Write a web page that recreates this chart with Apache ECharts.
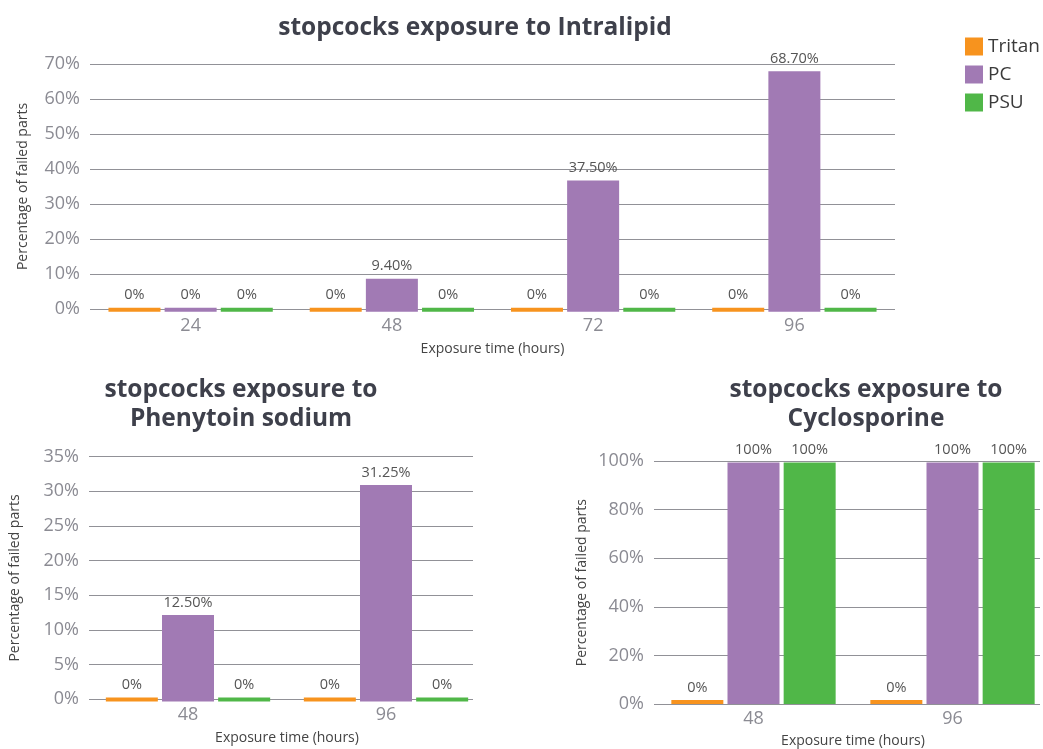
<!DOCTYPE html>
<html>
<head>
<meta charset="utf-8">
<script src="https://cdn.jsdelivr.net/npm/echarts@6/dist/echarts.min.js"></script>
<style>
html,body{margin:0;padding:0;background:#fff;overflow:hidden;width:1043px;height:749px;}
#c{width:1080px;height:749px;}
</style>
</head>
<body>
<div id="c"></div>
<script>
// ---- data ----
const seriesNames = ['Tritan', 'PC', 'PSU'];
const colors = ['#f7931e', '#a17ab4', '#50b748'];

const intraCats = ['24', '48', '72', '96'];
const intraTritan = [0, 0, 0, 0];
const intraPC = [0, 9.4, 37.5, 68.7];
const intraPSU = [0, 0, 0, 0];

const phenCats = ['48', '96'];
const phenTritan = [0, 0];
const phenPC = [12.5, 31.25];
const phenPSU = [0, 0];

const cycloCats = ['48', '96'];
const cycloTritan = [0, 0];
const cycloPC = [100, 100];
const cycloPSU = [100, 100];

const titleIntra = 'stopcocks exposure to Intralipid';
const titlePhen = 'stopcocks exposure to\nPhenytoin sodium';
const titleCyclo = 'stopcocks exposure to\nCyclosporine';
const xName = 'Exposure time (hours)';
const yName = 'Percentage of failed parts';

// ---- chart ----
const FONT = '"Open Sans", "DejaVu Sans", sans-serif';
const tickColor = '#8b8b93';
const fmt = p => {
  const v = p.value;
  return Number.isInteger(v) ? v + '%' : v.toFixed(2) + '%';
};

// grid with gridlines + y labels (no bars)
function lineX(idx, cats) {
  return { type: 'category', gridIndex: idx, data: cats, show: false };
}
function lineY(idx, max, interval, gap) {
  return {
    type: 'value', gridIndex: idx, min: 0, max: max, interval: interval,
    axisLine: { show: false }, axisTick: { show: false },
    axisLabel: { color: tickColor, fontSize: 18, fontFamily: FONT, formatter: '{value}%', margin: 10 },
    splitLine: { lineStyle: { color: '#919197', width: 1.2 } },
    name: yName, nameLocation: 'middle', nameRotate: 90, nameGap: gap,
    nameTextStyle: { color: '#444', fontSize: 14, fontFamily: FONT }
  };
}
// grid holding the bars + category labels
function barX(idx, cats, margin, gap) {
  return {
    type: 'category', gridIndex: idx, data: cats,
    axisLine: { show: false }, axisTick: { show: false },
    axisLabel: { color: tickColor, fontSize: 18, fontFamily: FONT, margin: margin },
    name: xName, nameLocation: 'middle', nameGap: gap,
    nameTextStyle: { color: '#444', fontSize: 14, fontFamily: FONT }
  };
}
function barY(idx, max, interval) {
  return { type: 'value', gridIndex: idx, min: 0, max: max, interval: interval, show: false, splitLine: { show: false } };
}
function mkBar(name, ci, idx, data) {
  return {
    type: 'bar', name: name, xAxisIndex: idx, yAxisIndex: idx, data: data,
    barWidth: 52, barGap: '8%', barMinHeight: 4,
    itemStyle: { color: colors[ci] },
    label: { show: true, position: 'top', distance: 5, color: '#555', fontSize: 14.5, fontFamily: FONT, formatter: fmt }
  };
}

const chart = echarts.init(document.getElementById('c'), null, { renderer: 'canvas' });
const titleStyle = { color: '#3e404b', fontSize: 24.5, fontWeight: 'bold', fontFamily: FONT, lineHeight: 29 };
chart.setOption({
  animation: false,
  backgroundColor: '#fff',
  title: [
    { text: titleIntra, left: 470, top: 9, textAlign: 'center', textStyle: titleStyle },
    { text: titlePhen, left: 236, top: 371, textAlign: 'center', textStyle: titleStyle },
    { text: titleCyclo, left: 861, top: 371, textAlign: 'center', textStyle: titleStyle }
  ],
  legend: {
    data: seriesNames, orient: 'vertical', left: 960, top: 32,
    itemWidth: 18, itemHeight: 18, itemGap: 9, icon: 'rect',
    textStyle: { color: '#3a3a3a', fontSize: 19, fontFamily: FONT }
  },
  grid: [
    { left: 90, top: 64, width: 805, height: 245 },
    { left: 90, top: 66.7, width: 805, height: 245 },
    { left: 89, top: 456.7, width: 384, height: 242.6 },
    { left: 89, top: 459, width: 396, height: 242.6 },
    { left: 654, top: 461, width: 386, height: 243.3 },
    { left: 654, top: 462.5, width: 398, height: 243.3 }
  ],
  xAxis: [
    lineX(0, intraCats), barX(1, intraCats, 5.5, 30),
    lineX(2, phenCats), barX(3, phenCats, 4.5, 29.5),
    lineX(4, cycloCats), barX(5, cycloCats, 6, 30)
  ],
  yAxis: [
    lineY(0, 70, 10, 60), barY(1, 70, 10),
    lineY(2, 35, 5, 67), barY(3, 35, 5),
    lineY(4, 100, 20, 65), barY(5, 100, 20)
  ],
  series: [
    mkBar('Tritan', 0, 1, intraTritan), mkBar('PC', 1, 1, intraPC), mkBar('PSU', 2, 1, intraPSU),
    mkBar('Tritan', 0, 3, phenTritan), mkBar('PC', 1, 3, phenPC), mkBar('PSU', 2, 3, phenPSU),
    mkBar('Tritan', 0, 5, cycloTritan), mkBar('PC', 1, 5, cycloPC), mkBar('PSU', 2, 5, cycloPSU)
  ]
});
</script>
</body>
</html>
